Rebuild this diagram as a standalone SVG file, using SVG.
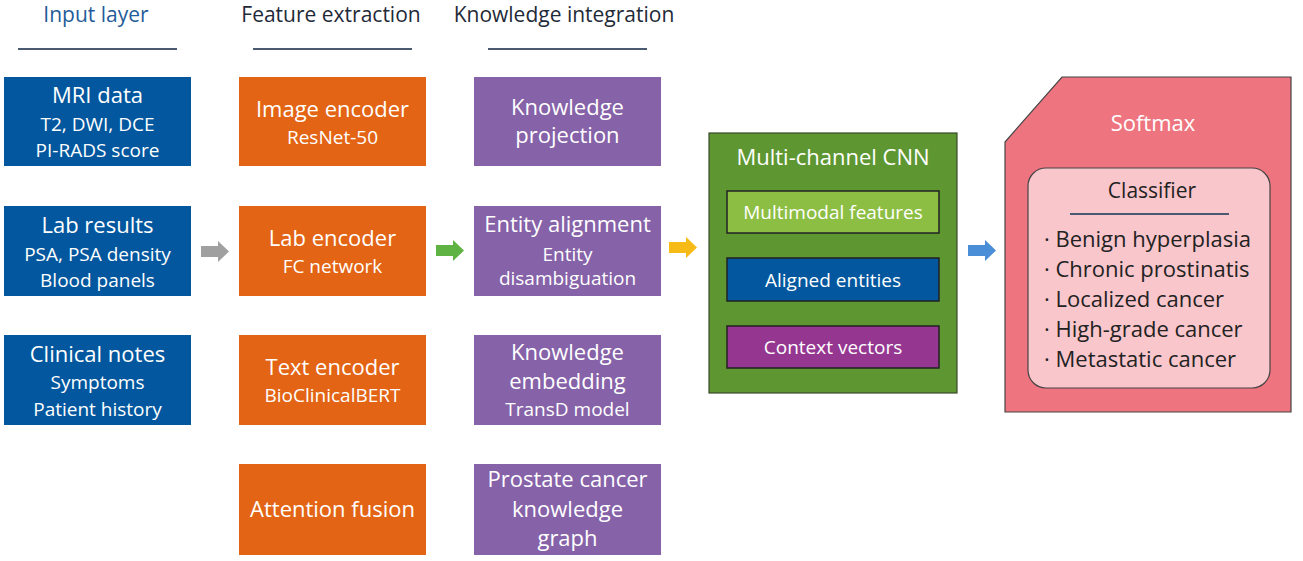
<svg xmlns="http://www.w3.org/2000/svg" width="1303" height="561" viewBox="0 0 1303 561">
  <style>
    text { font-family: "Open Sans", "Liberation Sans", sans-serif; text-anchor: middle; }
    text.left { text-anchor: start; }
    .hdr { font-size: 21px; fill: #1f2a38; }
    .hdr-in { font-size: 21px; fill: #1f5c99; }
    .rule { stroke: #4a5a70; stroke-width: 2; }
    .t1 { font-size: 22px; fill: #ffffff; }
    .t2 { font-size: 19px; fill: #ffffff; }
    .t3 { font-size: 19px; fill: #ffffff; }
    .blue { fill: #02579e; }
    .orange { fill: #e36414; }
    .purple { fill: #8662a8; }
    .dark { fill: #222222; }
  </style>
  <defs>
    <path id="arrow" d="M0,5 H17 V0 L28,10.5 L17,21 V16 H0 Z"/>
    <filter id="soft" x="-20%" y="-20%" width="140%" height="140%">
      <feGaussianBlur stdDeviation="0.6"/>
    </filter>
  </defs>

  <rect width="1303" height="561" fill="#ffffff"/>

  <!-- column headers -->
  <g id="headers">
    <text class="hdr-in" x="96" y="22">Input layer</text>
    <line class="rule" x1="18" y1="49" x2="177" y2="49"/>
    <text class="hdr" x="331" y="22">Feature extraction</text>
    <line class="rule" x1="253" y1="49" x2="412" y2="49"/>
    <text class="hdr" x="564" y="22">Knowledge integration</text>
    <line class="rule" x1="488" y1="49" x2="647" y2="49"/>
  </g>

  <!-- input layer -->
  <g id="mri">
    <rect class="blue" x="4" y="77" width="187" height="89"/>
    <text class="t1" x="97.5" y="103">MRI data</text>
    <text class="t2" x="97.5" y="131">T2, DWI, DCE</text>
    <text class="t2" x="97.5" y="157">PI-RADS score</text>
  </g>
  <g id="lab">
    <rect class="blue" x="4" y="206" width="187" height="90"/>
    <text class="t1" x="97.5" y="233">Lab results</text>
    <text class="t2" x="97.5" y="261">PSA, PSA density</text>
    <text class="t2" x="97.5" y="287">Blood panels</text>
  </g>
  <g id="clinical">
    <rect class="blue" x="4" y="335" width="187" height="90"/>
    <text class="t1" x="97.5" y="362">Clinical notes</text>
    <text class="t2" x="97.5" y="389">Symptoms</text>
    <text class="t2" x="97.5" y="416">Patient history</text>
  </g>

  <!-- feature extraction -->
  <g id="image-encoder">
    <rect class="orange" x="239" y="77" width="187" height="89"/>
    <text class="t1" x="332.5" y="117">Image encoder</text>
    <text class="t2" x="332.5" y="144">ResNet-50</text>
  </g>
  <g id="lab-encoder">
    <rect class="orange" x="239" y="206" width="187" height="90"/>
    <text class="t1" x="332.5" y="246">Lab encoder</text>
    <text class="t2" x="332.5" y="273">FC network</text>
  </g>
  <g id="text-encoder">
    <rect class="orange" x="239" y="335" width="187" height="90"/>
    <text class="t1" x="332.5" y="375">Text encoder</text>
    <text class="t2" x="332.5" y="402">BioClinicalBERT</text>
  </g>
  <g id="attention-fusion">
    <rect class="orange" x="239" y="464" width="187" height="91"/>
    <text class="t1" x="332.5" y="517">Attention fusion</text>
  </g>

  <!-- knowledge integration -->
  <g id="knowledge-projection">
    <rect class="purple" x="474" y="77" width="187" height="89"/>
    <text class="t1" x="567.5" y="115">Knowledge</text>
    <text class="t1" x="567.5" y="143">projection</text>
  </g>
  <g id="entity-alignment">
    <rect class="purple" x="474" y="206" width="187" height="90"/>
    <text class="t1" x="567.5" y="232">Entity alignment</text>
    <text class="t2" x="567.5" y="261">Entity</text>
    <text class="t2" x="567.5" y="285">disambiguation</text>
  </g>
  <g id="knowledge-embedding">
    <rect class="purple" x="474" y="335" width="187" height="90"/>
    <text class="t1" x="567.5" y="360">Knowledge</text>
    <text class="t1" x="567.5" y="389">embedding</text>
    <text class="t2" x="567.5" y="416">TransD model</text>
  </g>
  <g id="knowledge-graph">
    <rect class="purple" x="474" y="464" width="187" height="91"/>
    <text class="t1" x="567.5" y="487">Prostate cancer</text>
    <text class="t1" x="567.5" y="517">knowledge</text>
    <text class="t1" x="567.5" y="546">graph</text>
  </g>

  <!-- multi-channel CNN -->
  <g id="cnn">
    <rect x="709" y="133" width="248" height="260" fill="#5e9732" stroke="#3a4a2a" stroke-width="1.2"/>
    <text class="t1" x="833" y="165">Multi-channel CNN</text>
    <rect x="727" y="191" width="212" height="42" fill="#8dbe44" stroke="#222" stroke-width="1.5"/>
    <text class="t3" x="833" y="219">Multimodal features</text>
    <rect x="727" y="258" width="212" height="43" fill="#02579e" stroke="#222" stroke-width="1.5"/>
    <text class="t3" x="833" y="287">Aligned entities</text>
    <rect x="727" y="326" width="212" height="42" fill="#953791" stroke="#222" stroke-width="1.5"/>
    <text class="t3" x="833" y="354">Context vectors</text>
  </g>

  <!-- softmax classifier -->
  <g id="softmax">
    <path d="M1062,77 H1291 V412 H1005 V142 Z" fill="#ee7580" stroke="#444" stroke-width="1.2"/>
    <text class="t1" x="1153" y="131" font-size="21">Softmax</text>
    <rect x="1028" y="168" width="242" height="220" rx="18" fill="#f9c6cc" stroke="#444" stroke-width="1.2"/>
    <text class="dark" x="1152" y="198" font-size="21">Classifier</text>
    <line class="rule" x1="1070" y1="214" x2="1229" y2="214"/>
    <g class="dark" font-size="22">
      <text class="left" x="1044" y="247">· Benign hyperplasia</text>
      <text class="left" x="1044" y="277">· Chronic prostinatis</text>
      <text class="left" x="1044" y="307">· Localized cancer</text>
      <text class="left" x="1044" y="337">· High-grade cancer</text>
      <text class="left" x="1044" y="367">· Metastatic cancer</text>
    </g>
  </g>

  <!-- flow arrows between stages -->
  <g id="connectors" filter="url(#soft)">
    <use href="#arrow" x="201" y="241" fill="#a0a0a0"/>
    <use href="#arrow" x="436" y="240" fill="#5fb342"/>
    <use href="#arrow" x="669" y="237" fill="#f6bb15"/>
    <use href="#arrow" x="968" y="240" fill="#4a8ed6"/>
  </g>
</svg>
